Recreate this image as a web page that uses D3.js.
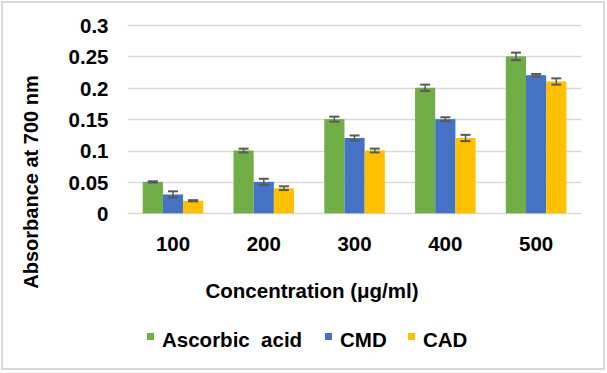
<!DOCTYPE html>
<html>
<head>
<meta charset="utf-8">
<script src="https://cdn.jsdelivr.net/npm/d3@7"></script>
<style>
  body { margin: 0; background: #fff; }
  svg { display: block; font-family: "Liberation Sans", Arial, sans-serif; font-weight: bold; }
</style>
</head>
<body>
<div id="chart"></div>
<script>
const categories = ["100", "200", "300", "400", "500"];
const seriesNames = ["Ascorbic  acid", "CMD", "CAD"];
const seriesColors = ["#70AD47", "#4472C4", "#FFC000"];
const ascorbic = [0.05, 0.10, 0.15, 0.20, 0.25];
const ascorbicErr = [0.001, 0.003, 0.004, 0.005, 0.006];
const cmd = [0.03, 0.05, 0.12, 0.15, 0.22];
const cmdErr = [0.005, 0.005, 0.004, 0.003, 0.002];
const cad = [0.02, 0.04, 0.10, 0.12, 0.21];
const cadErr = [0.001, 0.003, 0.003, 0.005, 0.005];
const yTicks = [0, 0.05, 0.1, 0.15, 0.2, 0.25, 0.3];

const values = [ascorbic, cmd, cad];
const errors = [ascorbicErr, cmdErr, cadErr];

const W = 607, H = 373;
const plot = { left: 127.6, right: 581.5, top: 25, bottom: 213.3 };
const font = "20px";
const bigFont = "20.5px";

const svg = d3.select("#chart").append("svg")
    .attr("width", W).attr("height", H);

svg.append("rect")
    .attr("x", 2).attr("y", 2)
    .attr("width", 602).attr("height", 367)
    .attr("fill", "#fff")
    .attr("stroke", "#d9d9d9")
    .attr("stroke-width", 2);

const y = d3.scaleLinear().domain([0, 0.3]).range([plot.bottom, plot.top]);
const x0 = d3.scaleBand().domain(categories).range([plot.left, plot.right]).padding(0);
const bw = x0.bandwidth();
const groupW = bw * 3 / 4.5;
const x1 = d3.scaleBand().domain(d3.range(3)).range([(bw - groupW) / 2, (bw + groupW) / 2]).padding(0);

// gridlines
svg.append("g")
    .selectAll("line")
    .data(yTicks)
    .join("line")
    .attr("x1", plot.left).attr("x2", plot.right)
    .attr("y1", d => Math.round(y(d)) + 0.5).attr("y2", d => Math.round(y(d)) + 0.5)
    .attr("stroke", "#d9d9d9")
    .attr("stroke-width", 1.5);

// y axis labels
const yAxis = d3.axisLeft(y).tickValues(yTicks).tickSize(0).tickPadding(0)
    .tickFormat(d => d3.format("")(+d.toFixed(2)));
svg.append("g")
    .attr("transform", `translate(108.5, 0)`)
    .call(yAxis)
    .call(g => g.select(".domain").remove())
    .call(g => g.selectAll("text")
        .attr("fill", "#000")
        .style("font-size", bigFont)
        .style("font-weight", "bold")
        .style("font-family", "Liberation Sans, Arial, sans-serif")
        .attr("dy", "0.36em"));

// x axis labels
const xAxis = d3.axisBottom(x0).tickSize(0).tickPadding(0);
svg.append("g")
    .attr("transform", `translate(0, ${plot.bottom})`)
    .call(xAxis)
    .call(g => g.select(".domain").remove())
    .call(g => g.selectAll("text")
        .attr("fill", "#000")
        .attr("y", 38)
        .attr("dy", 0)
        .style("font-size", bigFont)
        .style("font-weight", "bold")
        .style("font-family", "Liberation Sans, Arial, sans-serif"));

// bars
const groups = svg.append("g")
    .selectAll("g")
    .data(categories)
    .join("g")
    .attr("transform", d => `translate(${x0(d)}, 0)`);

groups.selectAll("rect")
    .data((c, i) => d3.range(3).map(s => ({ s: s, v: values[s][i], e: errors[s][i] })))
    .join("rect")
    .attr("x", d => x1(d.s))
    .attr("width", x1.bandwidth())
    .attr("y", d => y(d.v))
    .attr("height", d => y(0) - y(d.v))
    .attr("fill", d => seriesColors[d.s]);

// error bars
const err = groups.selectAll("g.err")
    .data((c, i) => d3.range(3).map(s => ({ s: s, v: values[s][i], e: errors[s][i] })))
    .join("g")
    .attr("class", "err")
    .attr("stroke", "#595959");

err.append("line")
    .attr("x1", d => x1(d.s) + x1.bandwidth() / 2)
    .attr("x2", d => x1(d.s) + x1.bandwidth() / 2)
    .attr("y1", d => y(d.v + d.e))
    .attr("y2", d => y(d.v - d.e))
    .attr("stroke-width", 1.5);
err.selectAll("line.cap")
    .data(d => [d.v + d.e, d.v - d.e].map(v => ({ s: d.s, v: v })))
    .join("line")
    .attr("class", "cap")
    .attr("x1", d => x1(d.s) + x1.bandwidth() / 2 - 5)
    .attr("x2", d => x1(d.s) + x1.bandwidth() / 2 + 5)
    .attr("y1", d => y(d.v))
    .attr("y2", d => y(d.v))
    .attr("stroke-width", 2);

// axis titles
svg.append("text")
    .attr("transform", `translate(38, 182) rotate(-90)`)
    .attr("text-anchor", "middle")
    .style("font-size", font)
    .text("Absorbance at 700 nm");

svg.append("text")
    .attr("x", 312).attr("y", 298)
    .attr("text-anchor", "middle")
    .style("font-size", bigFont)
    .text("Concentration (μg/ml)");

// legend
const legendX = [147, 325, 408];
const legend = svg.append("g")
    .selectAll("g")
    .data(seriesNames)
    .join("g")
    .attr("transform", (d, i) => `translate(${legendX[i]}, 0)`);
legend.append("rect")
    .attr("x", 0).attr("y", 333)
    .attr("width", 7).attr("height", 7)
    .attr("fill", (d, i) => seriesColors[i]);
legend.append("text")
    .attr("x", 15).attr("y", 347)
    .style("font-size", bigFont)
    .style("white-space", "pre")
    .attr("xml:space", "preserve")
    .text(d => d);
</script>
</body>
</html>
